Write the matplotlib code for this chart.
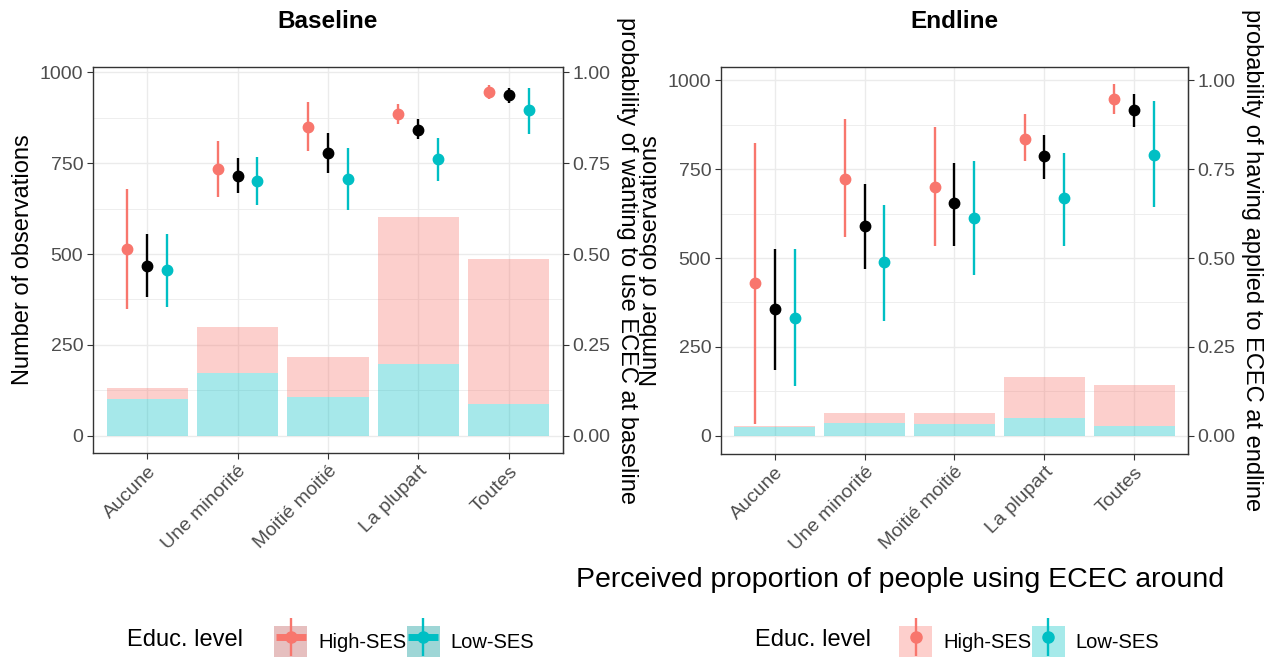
import numpy as np
import matplotlib
matplotlib.use('Agg')
import matplotlib.pyplot as plt
from matplotlib.patches import Patch
from matplotlib.lines import Line2D
from matplotlib.legend_handler import HandlerTuple

plt.rcParams['font.family'] = ['Liberation Sans', 'DejaVu Sans']

cats = ['Aucune', 'Une minorité', 'Moitié moitié', 'La plupart', 'Toutes']

# counts (stacked bars: Low-SES at bottom, High-SES on top)
base_n_low = [101, 172, 108, 199, 87]
base_n_high = [30, 126, 109, 404, 399]
end_n_low = [24, 37, 33, 51, 28]
end_n_high = [4, 28, 32, 115, 115]

# probabilities: estimate, low, high
base_high = [0.514, 0.734, 0.850, 0.886, 0.944]
base_high_lo = [0.348, 0.657, 0.784, 0.856, 0.925]
base_high_hi = [0.679, 0.810, 0.917, 0.913, 0.964]
base_all = [0.468, 0.715, 0.778, 0.842, 0.936]
base_all_lo = [0.383, 0.667, 0.724, 0.815, 0.914]
base_all_hi = [0.554, 0.764, 0.832, 0.872, 0.955]
base_low = [0.455, 0.702, 0.707, 0.761, 0.896]
base_low_lo = [0.355, 0.635, 0.621, 0.702, 0.829]
base_low_hi = [0.554, 0.768, 0.791, 0.818, 0.957]

end_high = [0.429, 0.723, 0.699, 0.836, 0.948]
end_high_lo = [0.033, 0.558, 0.535, 0.773, 0.906]
end_high_hi = [0.822, 0.890, 0.869, 0.906, 0.989]
end_all = [0.356, 0.590, 0.654, 0.787, 0.915]
end_all_lo = [0.185, 0.470, 0.535, 0.723, 0.869]
end_all_hi = [0.524, 0.708, 0.767, 0.846, 0.961]
end_low = [0.332, 0.488, 0.612, 0.668, 0.791]
end_low_lo = [0.140, 0.323, 0.452, 0.535, 0.644]
end_low_hi = [0.524, 0.648, 0.772, 0.795, 0.942]

RED = '#F8766D'
CYAN = '#00BFC4'
GRID = '#EBEBEB'
TXT = '#4D4D4D'

fig = plt.figure(figsize=(12.74, 6.57), dpi=100)


def panel(ax, title, n_low, n_high, series, ylim, rlabel):
    x = np.arange(1, 6)
    ax.bar(x, n_low, width=0.9, color=CYAN, alpha=0.35, lw=0, zorder=2)
    ax.bar(x, n_high, bottom=n_low, width=0.9, color=RED, alpha=0.35, lw=0, zorder=2)
    for off, col, (est, lo, hi) in series:
        est = np.array(est) * 1000
        lo = np.array(lo) * 1000
        hi = np.array(hi) * 1000
        ax.vlines(x + off, lo, hi, color=col, lw=1.7, zorder=3)
        ax.plot(x + off, est, 'o', color=col, ms=7.5, zorder=4)
    ax.set_xlim(0.4, 5.6)
    ax.set_ylim(*ylim)
    ax.set_xticks(x)
    ax.set_xticklabels(cats, rotation=45, ha='right', rotation_mode='anchor')
    ax.set_yticks([0, 250, 500, 750, 1000])
    ax.set_yticks([125, 375, 625, 875], minor=True)
    ax.grid(True, which='major', color=GRID, lw=1.0, zorder=0)
    ax.grid(True, which='minor', axis='y', color=GRID, lw=0.6, zorder=0)
    ax.set_axisbelow(True)
    ax.tick_params(which='minor', length=0)
    ax.tick_params(which='major', length=4, color='#333333', labelcolor=TXT, labelsize=14, pad=3)
    for s in ax.spines.values():
        s.set_color('#333333')
        s.set_linewidth(1.0)
    ax.set_ylabel('Number of observations', fontsize=17, labelpad=4)
    ax.set_title(title, fontsize=17.5, fontweight='bold', pad=28)
    sec = ax.secondary_yaxis('right', functions=(lambda v: v / 1000, lambda v: v * 1000))
    sec.set_yticks([0, 0.25, 0.5, 0.75, 1.0])
    sec.set_yticklabels(['0.00', '0.25', '0.50', '0.75', '1.00'])
    sec.tick_params(length=4, color='#333333', labelcolor=TXT, labelsize=14, pad=3)
    sec.set_ylabel(rlabel, rotation=-90, va='bottom', fontsize=17, labelpad=4)
    return ax


ax1 = fig.add_axes([0.0730, 0.3105, 0.3689, 0.5875])
panel(ax1, 'Baseline', base_n_low, base_n_high,
      [(-0.22, RED, (base_high, base_high_lo, base_high_hi)),
       (0.0, 'black', (base_all, base_all_lo, base_all_hi)),
       (0.22, CYAN, (base_low, base_low_lo, base_low_hi))],
      (-47, 1014), 'probability of wanting to use ECEC at baseline')

ax2 = fig.add_axes([0.5659, 0.3090, 0.3666, 0.589])
panel(ax2, 'Endline', end_n_low, end_n_high,
      [(-0.22, RED, (end_high, end_high_lo, end_high_hi)),
       (0.0, 'black', (end_all, end_all_lo, end_all_hi)),
       (0.22, CYAN, (end_low, end_low_lo, end_low_hi))],
      (-51, 1037), 'probability of having applied to ECEC at endline')
ax2.set_xlabel('Perceived proportion of people using ECEC around', fontsize=20.5)
ax2.xaxis.set_label_coords(0.383, -0.292)


def key(bg, col, cross):
    parts = [Patch(fc=bg, ec='none')]
    parts.append(Line2D([], [], color=col, marker='|', ms=27, mew=1.7, lw=0))
    if cross:
        parts.append(Line2D([], [], color=col, marker='_', ms=22, mew=5, lw=0))
    parts.append(Line2D([], [], color=col, marker='o', ms=8, lw=0))
    return tuple(parts)


def legend(x_title, x_leg, bgs, cross):
    fig.text(x_title, 0.026, 'Educ. level', fontsize=17, va='center', ha='left')
    hs = [key(bgs[0], RED, cross), key(bgs[1], CYAN, cross)]
    fig.legend(hs, ['High-SES', 'Low-SES'], ncol=2, frameon=False,
               loc='lower left', bbox_to_anchor=(x_leg, -0.021),
               handler_map={tuple: HandlerTuple(ndivide=1, pad=0)},
               handlelength=1.65, handleheight=2.0, handletextpad=0.55,
               columnspacing=0.0, fontsize=14.5, borderpad=0.2)


legend(127 / 1274, 260 / 1274, ['#E6BFBF', '#9ED6D6'], True)
legend(755 / 1274, 885 / 1274, ['#FDCFCC', '#A6EAEA'], False)

fig.savefig('out.png', dpi=100)
